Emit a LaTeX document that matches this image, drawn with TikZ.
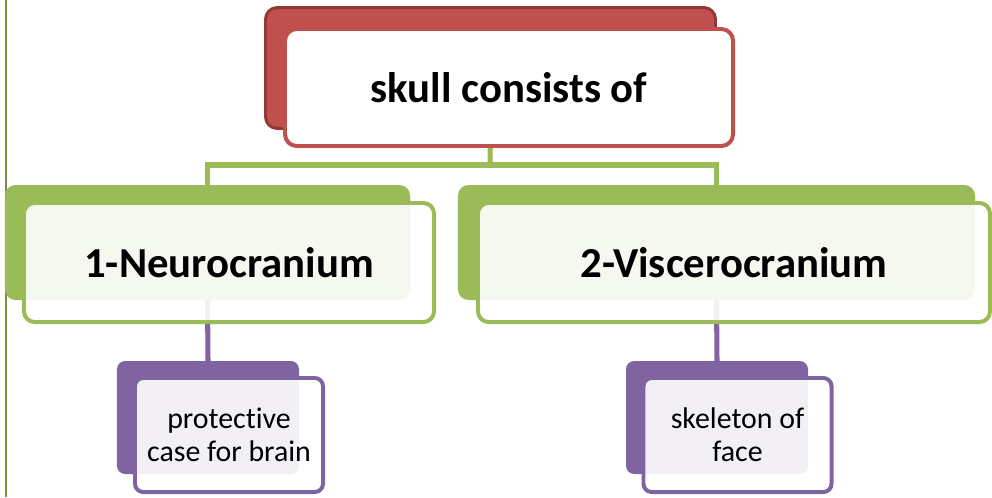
\documentclass[tikz,border=0pt]{standalone}
\usepackage{fontspec}
\setmainfont{Carlito}[Ligatures=NoCommon]
\usetikzlibrary{positioning,backgrounds}
\definecolor{skullred}{HTML}{C0504D}
\definecolor{skulldark}{HTML}{943634}
\definecolor{partgreen}{HTML}{9BBB59}
\definecolor{edgeolive}{HTML}{77933C}
\definecolor{rolepurple}{HTML}{8064A2}

\begin{document}
\begin{tikzpicture}[x=0.03cm, y=-0.03cm,
        redback/.style={rectangle, rounded corners=10pt, fill=skullred,
            draw=skulldark, line width=2.5pt, minimum width=13.5cm, minimum height=3.63cm},
        redfront/.style={rectangle, rounded corners=10pt, fill=white,
            draw=skullred, line width=3.4pt, minimum width=13.44cm, minimum height=3.51cm,
            font=\fontsize{36.5}{42}\selectfont\bfseries},
        greenback/.style={rectangle, rounded corners=9pt, fill=partgreen,
            minimum height=3.45cm},
        greenfront/.style={rectangle, rounded corners=9pt, fill=white, fill opacity=0.9,
            text opacity=1, draw=partgreen, draw opacity=1, line width=3.4pt,
            minimum height=3.57cm, font=\fontsize{36.5}{42}\selectfont\bfseries},
        purpleback/.style={rectangle, rounded corners=7pt, fill=rolepurple,
            minimum width=5.46cm, minimum height=3.39cm},
        purplefront/.style={rectangle, rounded corners=7pt, fill=white, fill opacity=0.9,
            text opacity=1, draw=rolepurple, draw opacity=1, line width=3.4pt,
            minimum width=5.64cm, minimum height=3.42cm, align=center,
            font=\fontsize{25.5}{28}\selectfont},
        greenlink/.style={draw=partgreen, line width=4.3pt},
        purplelink/.style={draw=rolepurple, line width=4.3pt}]
    \useasboundingbox (0,0) rectangle (992,497);

    \node[redback] (skullback) at (490.5,68) {};
    \node[redfront] (skull) at (509,87.5) {skull consists of};

    \node[greenback, minimum width=12.15cm] (neuroback) at (207.5,242.5) {};
    \node[greenfront, minimum width=12.3cm] (neuro) at (229,262.5) {1-Neurocranium};
    \node[greenback, minimum width=15.51cm] (visceroback) at (716.5,242.5) {};
    \node[greenfront, minimum width=15.36cm] (viscero) at (734,262.5) {2-Viscerocranium};

    \node[purpleback] (brainback) at (208,417.5) {};
    \node[purplefront] (brain) at (229,435) {protective\\case for brain};
    \node[purpleback] (faceback) at (717,417.5) {};
    \node[purplefront] (face) at (737.5,435) {skeleton of\\face};

    \coordinate (fork) at (490,165);
    \coordinate (edgetop) at (6,0);
    \coordinate (edgebottom) at (6,497);

    \begin{scope}[on background layer]
        \draw[edgeolive, line width=1.2pt] (edgetop) -- (edgebottom);
        \draw[greenlink] (skullback.south) -- (fork);
        \draw[greenlink] (neuroback.north) |- (fork) -| (visceroback.north);
        \draw[purplelink] (neuroback.south) -- (brainback.north);
        \draw[purplelink] (visceroback.south) -- (faceback.north);
    \end{scope}
\end{tikzpicture}
\end{document}
